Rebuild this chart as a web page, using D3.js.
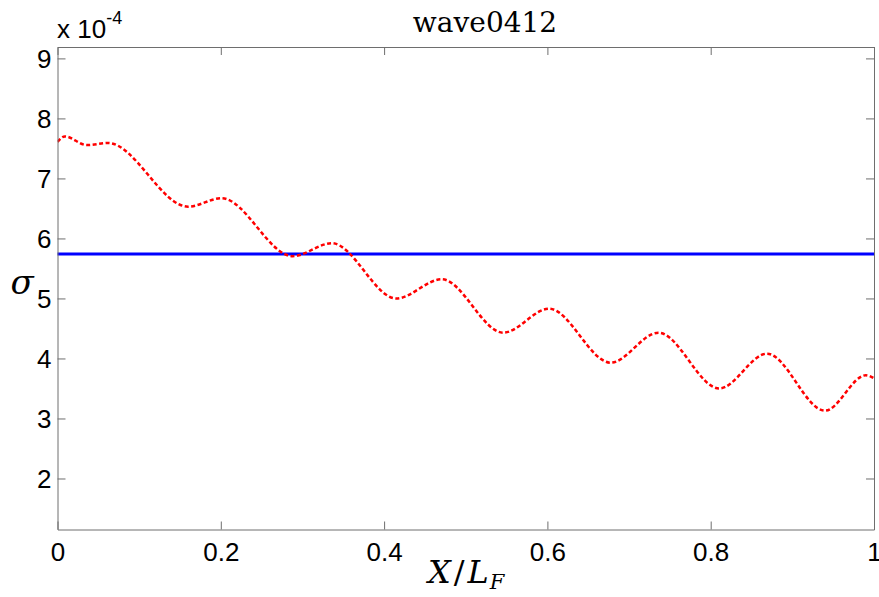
<!DOCTYPE html>
<html>
<head>
<meta charset="utf-8">
<script src="https://cdn.jsdelivr.net/npm/d3@7"></script>
<style>
body { margin: 0; background: #fff; }
</style>
</head>
<body>
<div id="chart"></div>
<script>
var w = 879;
var h = 597;

// sigma values in units of 1e-4
var xPos = [0, 0.009, 0.036, 0.062, 0.16, 0.201, 0.288, 0.336, 0.415, 0.4705,
            0.546, 0.602, 0.6775, 0.736, 0.8105, 0.869, 0.94, 0.99, 1.0];
var sigma = [7.61, 7.70, 7.555, 7.59, 6.53, 6.67, 5.705, 5.92, 5.00, 5.32,
             4.43, 4.83, 3.93, 4.43, 3.50, 4.08, 3.13, 3.72, 3.67];
var meanSigma = [5.74];
var xTicks = [0, 0.2, 0.4, 0.6, 0.8, 1];
var yTicks = [2, 3, 4, 5, 6, 7, 8, 9];

var pLeft = 57.5, pRight = 874, pTop = 47, pBottom = 529.5;

var svg = d3.select("#chart")
    .append("svg")
    .attr("width", w)
    .attr("height", h)
    .style("background-color", "white");

var xScale = d3.scaleLinear().domain([0, 1]).range([pLeft, pRight]);
var yScale = d3.scaleLinear().domain([1.15, 9.19]).range([pBottom, pTop]);

svg.append("defs").append("clipPath")
    .attr("id", "plotclip")
    .append("rect")
    .attr("x", pLeft).attr("y", pTop)
    .attr("width", pRight - pLeft).attr("height", pBottom - pTop);

// mean line
svg.selectAll("line.mean")
    .data(meanSigma)
    .join("line")
    .attr("class", "mean")
    .attr("x1", xScale(0))
    .attr("x2", xScale(1))
    .attr("y1", d => yScale(d))
    .attr("y2", d => yScale(d))
    .attr("stroke", "#0000ff")
    .attr("stroke-width", 3);

var pts = xPos.map((x, i) => [x, sigma[i]]);
var line = d3.line()
    .x(d => xScale(d[0]))
    .y(d => yScale(d[1]))
    .curve(d3.curveMonotoneX);

svg.append("path")
    .datum(pts)
    .attr("clip-path", "url(#plotclip)")
    .attr("d", line)
    .attr("fill", "none")
    .attr("stroke", "#ff0000")
    .attr("stroke-width", 2.5)
    .attr("stroke-dasharray", "4,2.5");

// axes (ticks pointing inward like matlab)
var axisColor = "#6e6e6e";
var fontAxis = "'Liberation Sans', Arial, sans-serif";

var gx = svg.append("g")
    .attr("transform", `translate(0, ${pBottom})`)
    .call(d3.axisBottom(xScale).tickValues(xTicks).tickSizeInner(-8).tickSizeOuter(0).tickPadding(13)
        .tickFormat(d => d === 0 || d === 1 ? d3.format("d")(d) : d3.format(".1f")(d)));
var gxt = svg.append("g")
    .attr("transform", `translate(0, ${pTop})`)
    .call(d3.axisTop(xScale).tickValues(xTicks).tickSizeInner(-8).tickSizeOuter(0).tickFormat(""));
var gy = svg.append("g")
    .attr("transform", `translate(${pLeft}, 0)`)
    .call(d3.axisLeft(yScale).tickValues(yTicks).tickSizeInner(-8).tickSizeOuter(0).tickPadding(6));
var gyr = svg.append("g")
    .attr("transform", `translate(${pRight}, 0)`)
    .call(d3.axisRight(yScale).tickValues(yTicks).tickSizeInner(-8).tickSizeOuter(0).tickFormat(""));

[gx, gxt, gy, gyr].forEach(function(g) {
    g.selectAll("path, line").attr("stroke", axisColor).attr("stroke-width", 1);
    g.selectAll("text")
        .attr("fill", "black")
        .style("font-family", fontAxis)
        .style("font-size", "26px");
});
gx.selectAll("text").attr("dy", "0.71em");
gy.selectAll("text").attr("dy", "0.36em");

// exponent label
var expo = svg.append("text")
    .attr("x", 57)
    .attr("y", 38)
    .style("font-family", fontAxis)
    .style("font-size", "26px")
    .attr("fill", "black");
expo.append("tspan").text("x 10");
expo.append("tspan").attr("dy", -14).style("font-size", "18px").text("-4");

// title
svg.append("text")
    .attr("x", 485)
    .attr("y", 32)
    .attr("text-anchor", "middle")
    .style("font-family", "'DejaVu Serif', serif")
    .style("font-size", "28px")
    .attr("fill", "black")
    .text("wave0412");

// x label
var xl = svg.append("text")
    .attr("x", 428)
    .attr("y", 583)
    .style("font-family", "'DejaVu Serif', serif")
    .style("font-style", "italic")
    .style("font-size", "32px")
    .attr("fill", "black");
xl.append("tspan").text("X");
xl.append("tspan").attr("dx", 3).style("font-style", "normal").text("/");
xl.append("tspan").attr("dx", 3).text("L");
xl.append("tspan").attr("dy", 6).attr("dx", 1).style("font-size", "21px").text("F");

// y label
svg.append("text")
    .attr("x", 22)
    .attr("y", 294)
    .attr("text-anchor", "middle")
    .style("font-family", "'DejaVu Serif', serif")
    .style("font-style", "italic")
    .style("font-size", "34px")
    .attr("fill", "black")
    .text("σ");
</script>
</body>
</html>
